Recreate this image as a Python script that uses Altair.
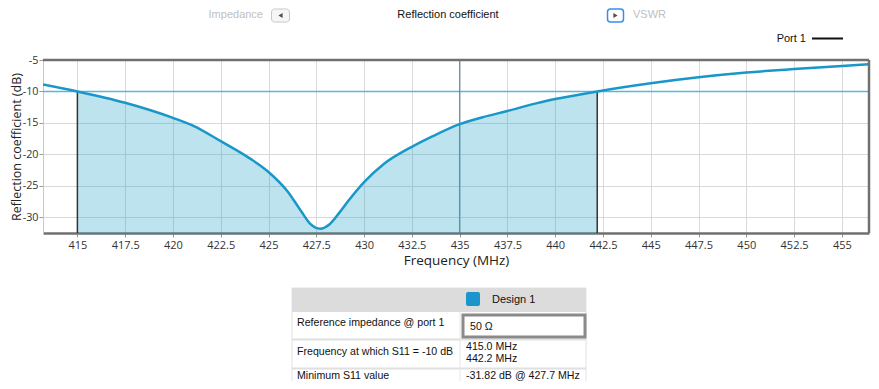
import altair as alt
import pandas as pd

# ---- data ----
freq_mhz = [413.2, 415.0, 417.5, 420.0, 421.1, 422.5, 424.0, 425.0, 426.0, 426.7,
            427.2, 427.7, 428.2, 428.7, 429.2, 430.0, 431.0, 432.5, 433.6, 435.0,
            436.2, 437.5, 439.0, 440.0, 441.1, 442.2, 445.0, 447.5, 450.0, 452.5,
            455.0, 456.7]
s11_db = [-8.9, -10.0, -11.8, -14.2, -15.5, -17.9, -20.6, -22.8, -25.9, -29.0,
          -31.1, -31.82, -31.1, -29.3, -27.3, -24.4, -21.6, -18.8, -17.1, -15.2,
          -14.1, -13.1, -11.9, -11.2, -10.6, -10.0, -8.7, -7.75, -7.0, -6.43,
          -5.95, -5.63]
band_edges_mhz = [415.0, 442.2]
threshold_db = [-10.0]
marker_mhz = [435.0]
x_ticks = [415, 417.5, 420, 422.5, 425, 427.5, 430, 432.5, 435, 437.5, 440,
           442.5, 445, 447.5, 450, 452.5, 455]
y_ticks = [-30, -25, -20, -15, -10, -5]
x_domain = [413.2, 456.42]
y_domain = [-32.5, -5.0]

tabs = ["Impedance", "Reflection coefficient", "VSWR"]
legend_label = "Port 1"
design_name = "Design 1"
table_labels = ["Reference impedance @ port 1", "Frequency at which S11 = -10 dB",
                "Minimum S11 value"]
impedance_value = "50 Ω"
freq_values = ["415.0 MHz", "442.2 MHz"]
min_value = "-31.82 dB @ 427.7 MHz"

W, H = 826, 173
UI_FONT = "Liberation Sans"
AX_FONT = "Open Sans"

curve = pd.DataFrame({"f": freq_mhz, "s": s11_db})
band = curve[(curve.f >= band_edges_mhz[0]) & (curve.f <= band_edges_mhz[1])]
one = pd.DataFrame({"d": [0]})

xs = alt.Scale(domain=x_domain, nice=False, zero=False)
ys = alt.Scale(domain=y_domain, nice=False, zero=False)

x_axis = alt.Axis(values=x_ticks, title="Frequency (MHz)", grid=True, gridColor="#d9d9d9",
                  labelExpr="'' + datum.value", labelFont=AX_FONT, labelFontSize=11,
                  labelColor="#333333", tickColor="#999999", tickSize=4, labelPadding=2,
                  domainColor="#707070", domainWidth=2.5, titleFont=AX_FONT,
                  titleFontSize=13.5, titleFontWeight="normal", titleColor="#222222",
                  titlePadding=3)
y_axis = alt.Axis(values=y_ticks, title="Reflection coefficient (dB)", grid=True,
                  gridColor="#d9d9d9", labelExpr="'' + datum.value", labelFont=AX_FONT,
                  labelFontSize=10.8, labelColor="#333333", tickColor="#999999", tickSize=4,
                  labelPadding=1, domainColor="#c8c8c8", domainWidth=1, titleFont=AX_FONT,
                  titleFontSize=12.5, titleFontWeight="normal", titleColor="#222222",
                  titleX=-27, titleY=H / 2, titleAlign="center", titleBaseline="middle")


def X(field):
    return alt.X(field, scale=xs, axis=x_axis)


def Y(field):
    return alt.Y(field, scale=ys, axis=y_axis)


area = alt.Chart(band).mark_area(color="#23a2ca", opacity=0.3, interpolate="monotone").encode(
    x=X("f:Q"), y=Y("s:Q"), y2=alt.datum(y_domain[0]),
)
edges = alt.Chart(pd.DataFrame({"f": band_edges_mhz, "s": threshold_db * 2})).mark_rule(
    color="#333333", strokeWidth=1.5).encode(
    x=X("f:Q"), y=Y("s:Q"), y2=alt.datum(y_domain[0]),
)
thr = alt.Chart(pd.DataFrame({"s": threshold_db})).mark_rule(
    color="#5ab6dc", strokeWidth=1.5).encode(y=Y("s:Q"))
marker = alt.Chart(pd.DataFrame({"f": marker_mhz})).mark_rule(
    color="#2a90c4", strokeWidth=1).encode(x=X("f:Q"))
line = alt.Chart(curve).mark_line(color="#1a97c9", strokeWidth=2.5,
                                  interpolate="monotone", clip=True).encode(
    x=X("f:Q"), y=Y("s:Q"),
)


def rule(x, y, x2=None, y2=None, color="#707070", w=2.5):
    enc = dict(x=alt.value(x), y=alt.value(y))
    if x2 is not None:
        enc["x2"] = alt.value(x2)
    if y2 is not None:
        enc["y2"] = alt.value(y2)
    return alt.Chart(one).mark_rule(color=color, strokeWidth=w).encode(**enc)


def rect(x, x2, y, y2, **kw):
    return alt.Chart(one).mark_rect(**kw).encode(
        x=alt.value(x), x2=alt.value(x2), y=alt.value(y), y2=alt.value(y2))


def txt(s, x, y, align="left", color="#111111", size=11, font=UI_FONT, baseline="middle"):
    return alt.Chart(pd.DataFrame({"t": [s]})).mark_text(
        align=align, baseline=baseline, color=color, fontSize=size, font=font).encode(
        x=alt.value(x), y=alt.value(y), text="t:N")


def tri(shape, x, y):
    return alt.Chart(one).mark_point(shape=shape, filled=True, size=24, color="#505050",
                                     opacity=1).encode(x=alt.value(x), y=alt.value(y))


frame = [
    rule(0, 0, x2=W),
    rule(W, 0, y2=H),
]

# top tab bar (plot coords = page - (43, 60))
TOPB = -42.5
topbar = [
    txt(tabs[0], 220, TOPB, align="right", color="#c0c0c0", baseline="alphabetic"),
    rect(228.5, 246.5, -51, -38, fill="#f6f6f6", stroke="#c8c8c8", strokeWidth=1, cornerRadius=3),
    tri("triangle-left", 237.5, -44.5),
    txt(tabs[1], 405, TOPB, align="center", color="#111111", baseline="alphabetic"),
    rect(564.5, 580.5, -51, -38, fill="#ffffff", stroke="#3a8ee6", strokeWidth=1.5, cornerRadius=3),
    tri("triangle-right", 572.5, -44.5),
    txt(tabs[2], 590, TOPB, color="#c0c0c0", baseline="alphabetic"),
    txt(legend_label, 763, -21.5, align="right", color="#111111"),
    rule(769, -21.5, x2=800, color="#111111", w=2),
]

# results table
TS = 10.6
table = [
    rect(249, 543, 228, 322, fill="#ffffff", stroke="#e2e2e2", strokeWidth=1),
    rect(249, 543, 228, 252, fill="#dcdcdc"),
    rect(423, 437, 232, 246, fill="#1a96cc", cornerRadius=2),
    txt(design_name, 449, 240),
    rule(249, 279.5, x2=543, color="#e0e0e0", w=2),
    rule(249, 308.5, x2=543, color="#e0e0e0", w=2),
    rule(417, 252, y2=322, color="#e6e6e6", w=1),
    txt(table_labels[0], 254, 263, size=TS),
    rect(420, 542, 255, 277, fill="#ffffff", stroke="#8a8a8a", strokeWidth=3),
    txt(impedance_value, 427, 267, size=TS),
    txt(table_labels[1], 254, 292, size=TS),
    txt(freq_values[0], 423, 287, size=TS),
    txt(freq_values[1], 423, 299, size=TS),
    txt(table_labels[2], 254, 318.5, size=TS, baseline="alphabetic"),
    txt(min_value, 423, 318.5, size=TS, baseline="alphabetic"),
]

chart = alt.layer(area, edges, thr, marker, line, *frame, *topbar, *table).properties(
    width=W, height=H,
    autosize=alt.AutoSizeParams(type="none"),
    padding={"left": 35, "top": 52, "right": 2, "bottom": 148},
    background="#ffffff",
).configure_view(stroke=None)

chart.save("out.html", embed_options={"renderer": "svg", "actions": False})
